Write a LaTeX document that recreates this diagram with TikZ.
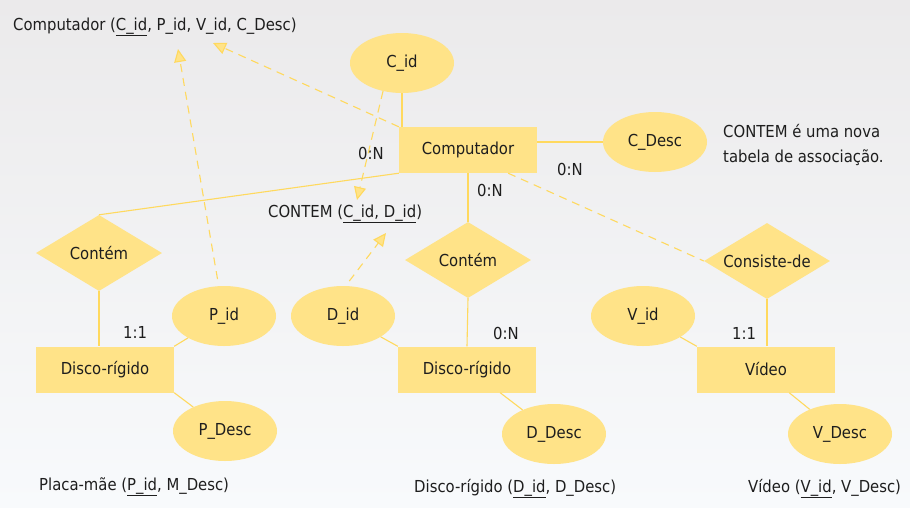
\documentclass[tikz,border=0pt]{standalone}
\usepackage{fontspec}
\setmainfont{DejaVu Sans Condensed}
\usetikzlibrary{shapes.geometric,arrows.meta}
\definecolor{argfill}{HTML}{FFE388}
\definecolor{argline}{HTML}{FFD95E}
\definecolor{txt}{HTML}{1E1E1E}
\definecolor{bgtop}{HTML}{EBEAEB}
\definecolor{bgbot}{HTML}{F8FAFC}

\begin{document}
\begin{tikzpicture}[x=1pt, y=-1pt]
	\tikzset{every node/.style = {text=txt, font=\fontsize{16.5}{20}\selectfont}}
	\tikzset{entity/.style = {shape=rectangle, fill=argfill, minimum width=138pt, minimum height=46pt, inner sep=0pt}}
	\tikzset{attrib/.style = {shape=ellipse, fill=argfill, minimum width=104pt, minimum height=60pt, inner sep=0pt}}
	\tikzset{relation/.style = {shape=diamond, fill=argfill, minimum width=126pt, minimum height=76pt, inner sep=0pt, aspect=1.66}}
	\tikzset{label/.style = {anchor=base west, inner sep=0pt}}
	\tikzset{edge/.style = {draw=argline, line width=1.1pt}}
	\tikzset{ref/.style = {edge, dash pattern=on 8pt off 6pt, -{Triangle[width=12pt, length=13pt, fill=argfill]}}}
	\shade[top color=bgtop, bottom color=bgbot] (0, 0) rectangle (910, 507);
	\useasboundingbox (0, 0) rectangle (910, 507);
	% relational schema
	\node[label] (tcomp) at (13, 30) {Computador (\underline{C\_id}, P\_id, V\_id, C\_Desc)};
	\node[label] (tcontem) at (268, 217) {CONTEM (\underline{C\_id, D\_id})};
	\node[label, align=left, font=\fontsize{16.5}{25}\selectfont] (nota) at (723, 162) {CONTEM é uma nova\\tabela de associação.};
	\node[label] (tplaca) at (39, 490) {Placa-mãe (\underline{P\_id}, M\_Desc)};
	\node[label] (tdisco) at (414, 492) {Disco-rígido (\underline{D\_id}, D\_Desc)};
	\node[label] (tvideo) at (748, 492) {Vídeo (\underline{V\_id}, V\_Desc)};
	\coordinate (tipv) at (213, 43);
	\coordinate (tipp) at (178, 49);
	\coordinate (tipc) at (357, 200);
	\coordinate (tipd) at (386, 233);
	% entities
	\node[entity] (comp) at (468, 150) {Computador};
	\node[entity] (disco1) at (105, 369.5) {Disco-rígido};
	\node[entity] (disco2) at (467, 369.5) {Disco-rígido};
	\node[entity] (video) at (766, 369.5) {Vídeo};
	% attributes
	\node[attrib] (cid) at (402, 63) {C\_id};
	\node[attrib] (cdesc) at (655, 142) {C\_Desc};
	\node[attrib] (pid) at (224, 316) {P\_id};
	\node[attrib] (pdesc) at (225, 431) {P\_Desc};
	\node[attrib] (did) at (343, 316) {D\_id};
	\node[attrib] (ddesc) at (554, 434) {D\_Desc};
	\node[attrib] (vid) at (643, 316) {V\_id};
	\node[attrib] (vdesc) at (840, 434) {V\_Desc};
	% relationships
	\node[relation] (cont1) at (99, 253) {Contém};
	\node[relation] (cont2) at (468, 260) {Contém};
	\node[relation] (cons) at (767, 261) {Consiste-de};
	% cardinalities
	\node[label] (c1) at (358, 159) {0:N};
	\node[label] (c2) at (557, 175) {0:N};
	\node[label] (c3) at (477, 196) {0:N};
	\node[label] (c4) at (123, 338) {1:1};
	\node[label] (c5) at (493, 339) {0:N};
	\node[label] (c6) at (732, 339) {1:1};
	% connectors
	\draw[edge] (cid.south) to (cid.south |- comp.north);
	\draw[edge] (cdesc.west) to (cdesc.west -| comp.east);
	\draw[edge] (comp.south west) to (cont1.north);
	\draw[edge] (comp.south) to (cont2.north);
	\draw[edge] (cont1.south) to (cont1.south |- disco1.north);
	\draw[edge] (cont2.south) to (disco2.north);
	\draw[edge] (cons.south) to (cons.south |- video.north);
	\draw[edge] (disco1.north east) to (pid);
	\draw[edge] (disco1.south east) to (pdesc);
	\draw[edge] (did) to (disco2.north west);
	\draw[edge] (disco2.-35) to (ddesc);
	\draw[edge] (vid) to (video.north west);
	\draw[edge] (video.-45) to (vdesc);
	\draw[edge, dash pattern=on 8pt off 6pt] (comp.-30) to (cons.west);
	\draw[ref] (comp.north west) to (tipv);
	\draw[ref, shorten <=7pt] (pid.100) to (tipp);
	\draw[ref] (cid.236) to (tipc);
	\draw[ref, shorten <=6pt] (did.85) to (tipd);
\end{tikzpicture}
\end{document}
